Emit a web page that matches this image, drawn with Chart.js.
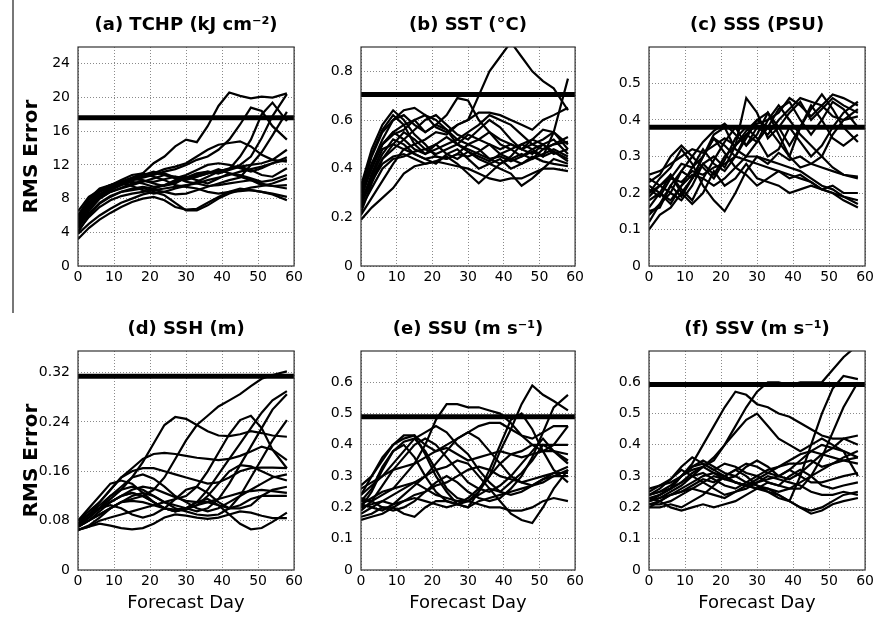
<!DOCTYPE html>
<html>
<head>
<meta charset="utf-8">
<script src="https://cdn.jsdelivr.net/npm/chart.js@4"></script>
<style>
  body { margin: 0; background: #fff; }
  #wrap { position: relative; width: 877px; height: 626px; overflow: hidden; }
  #wrap canvas { position: absolute; }
  #edge { position: absolute; left: 12px; top: 0; width: 1.5px; height: 313px; background: #777; }
</style>
</head>
<body>
<div id="wrap">
  <div id="edge"></div>
  <canvas id="pa" width="306" height="300" style="left:0;top:0"></canvas>
  <canvas id="pb" width="281" height="300" style="left:306px;top:0"></canvas>
  <canvas id="pc" width="287" height="300" style="left:590px;top:0"></canvas>
  <canvas id="pd" width="306" height="326" style="left:0;top:300px"></canvas>
  <canvas id="pe" width="281" height="326" style="left:306px;top:300px"></canvas>
  <canvas id="pf" width="287" height="326" style="left:590px;top:300px"></canvas>
</div>
<script>
// forecast days sampled for every run
const days = [0, 3, 6, 9, 12, 15, 18, 21, 24, 27, 30, 33, 36, 39, 42, 45, 48, 51, 54, 58];
const dayTicks = [0, 10, 20, 30, 40, 50, 60];

// (a) TCHP
const tchpTicks = [0, 4, 8, 12, 16, 20, 24];
const tchpLimit = 17.6;
const tchpRuns = [
  [6.0, 7.5, 8.8, 9.5, 10.0, 10.5, 11.0, 12.2, 13.0, 14.2, 15.0, 14.7, 16.6, 19.0, 20.6, 20.2, 19.9, 20.1, 20.0, 20.5],
  [5.0, 7.0, 8.4, 9.2, 9.8, 10.2, 10.5, 10.8, 11.2, 11.5, 12.0, 12.6, 13.0, 13.8, 15.0, 16.8, 18.8, 18.4, 16.6, 15.0],
  [4.5, 6.5, 8.0, 8.8, 9.3, 9.8, 10.1, 10.0, 10.3, 10.6, 10.4, 10.8, 11.2, 11.0, 11.5, 12.0, 13.0, 15.2, 17.8, 20.4],
  [5.2, 7.0, 8.2, 9.0, 9.6, 10.0, 9.8, 9.4, 9.6, 10.0, 10.4, 10.6, 11.0, 11.3, 11.5, 13.0, 15.0, 18.0, 19.4, 17.2],
  [4.0, 6.0, 7.4, 8.2, 8.8, 9.0, 9.2, 9.0, 8.8, 8.5, 8.6, 9.0, 9.4, 9.8, 10.2, 10.5, 12.0, 13.5, 15.5, 18.3],
  [5.5, 7.2, 8.5, 9.2, 9.8, 10.3, 10.6, 11.0, 11.5, 11.8, 12.2, 13.0, 13.8, 14.4, 14.6, 14.8, 14.2, 13.2, 12.6, 13.8],
  [3.2, 4.5, 5.5, 6.3, 7.0, 7.6, 8.0, 8.2, 7.8, 7.0, 6.7, 6.8, 7.5, 8.2, 8.8, 9.2, 9.0, 8.8, 8.5, 7.8],
  [3.8, 5.0, 6.0, 6.8, 7.5, 8.0, 8.5, 8.8, 8.4, 7.5, 6.6, 6.6, 7.2, 8.0, 8.6, 9.0, 9.3, 9.5, 9.8, 10.4],
  [4.2, 5.8, 7.0, 7.8, 8.3, 8.6, 8.8, 9.0, 9.2, 9.4, 9.6, 9.8, 10.2, 10.5, 10.8, 11.2, 11.5, 11.8, 12.2, 12.9],
  [5.0, 7.2, 8.5, 9.3, 9.8, 10.2, 10.6, 10.9, 11.0, 10.5, 10.0, 9.8, 9.5, 9.6, 9.8, 10.0, 10.2, 9.8, 9.5, 9.2],
  [6.5, 8.2, 9.0, 9.6, 10.0, 10.3, 10.2, 9.8, 9.5, 9.8, 10.5, 11.0, 11.2, 11.0, 11.4, 11.8, 12.0, 12.2, 12.6, 12.4],
  [5.5, 7.5, 8.8, 9.4, 9.8, 9.5, 9.0, 8.6, 8.8, 9.2, 9.5, 10.0, 10.6, 11.2, 11.6, 11.8, 11.4, 10.8, 10.6, 11.6],
  [4.8, 6.8, 8.0, 8.8, 9.2, 9.6, 10.0, 10.4, 10.8, 10.6, 10.2, 10.6, 11.0, 11.5, 11.0, 10.6, 10.2, 9.6, 9.5, 9.6],
  [6.0, 8.0, 9.2, 9.6, 10.2, 10.8, 11.0, 10.6, 10.2, 9.6, 9.4, 9.2, 8.8, 8.6, 8.8, 8.9, 9.0, 8.8, 8.6, 8.2],
  [5.8, 7.8, 9.0, 9.6, 10.0, 10.4, 10.8, 11.2, 10.8, 10.4, 10.8, 11.4, 12.0, 12.2, 12.0, 11.6, 11.2, 11.6, 12.2, 12.6],
  [4.6, 6.2, 7.5, 8.3, 8.8, 9.2, 9.4, 9.2, 9.6, 10.2, 10.6, 10.2, 9.8, 10.4, 11.0, 10.8, 10.4, 10.0, 10.2, 10.8]
];

// (b) SST
const sstTicks = [0, 0.2, 0.4, 0.6, 0.8];
const sstLimit = 0.705;
const sstRuns = [
  [0.25, 0.38, 0.48, 0.50, 0.48, 0.50, 0.52, 0.55, 0.54, 0.58, 0.60, 0.70, 0.80, 0.86, 0.92, 0.86, 0.80, 0.76, 0.73, 0.64],
  [0.22, 0.34, 0.44, 0.50, 0.55, 0.52, 0.48, 0.50, 0.46, 0.44, 0.47, 0.45, 0.43, 0.46, 0.48, 0.45, 0.47, 0.45, 0.55, 0.77],
  [0.30, 0.45, 0.55, 0.60, 0.62, 0.58, 0.55, 0.58, 0.62, 0.69, 0.68, 0.60, 0.55, 0.52, 0.50, 0.48, 0.50, 0.52, 0.55, 0.50],
  [0.28, 0.42, 0.52, 0.60, 0.64, 0.65, 0.62, 0.60, 0.56, 0.52, 0.50, 0.52, 0.55, 0.50, 0.48, 0.50, 0.52, 0.56, 0.55, 0.48],
  [0.25, 0.35, 0.42, 0.45, 0.46, 0.44, 0.42, 0.43, 0.45, 0.42, 0.38, 0.34, 0.38, 0.42, 0.44, 0.46, 0.44, 0.46, 0.48, 0.45],
  [0.30, 0.40, 0.50, 0.55, 0.52, 0.48, 0.46, 0.50, 0.53, 0.50, 0.47, 0.44, 0.42, 0.40, 0.38, 0.33, 0.36, 0.40, 0.44, 0.42],
  [0.19, 0.24, 0.28, 0.32, 0.38, 0.41, 0.42, 0.43, 0.42, 0.41, 0.40, 0.38, 0.36, 0.35, 0.36, 0.36, 0.38, 0.40, 0.40, 0.39],
  [0.32, 0.46, 0.56, 0.62, 0.58, 0.50, 0.46, 0.48, 0.50, 0.52, 0.55, 0.58, 0.62, 0.60, 0.58, 0.54, 0.50, 0.48, 0.50, 0.53],
  [0.28, 0.40, 0.50, 0.55, 0.58, 0.60, 0.62, 0.57, 0.55, 0.58, 0.60, 0.63, 0.63, 0.62, 0.60, 0.58, 0.56, 0.60, 0.62, 0.65],
  [0.26, 0.37, 0.46, 0.52, 0.50, 0.46, 0.44, 0.45, 0.44, 0.46, 0.45, 0.47, 0.50, 0.48, 0.50, 0.48, 0.46, 0.50, 0.52, 0.46],
  [0.33, 0.48, 0.58, 0.64, 0.60, 0.54, 0.50, 0.45, 0.44, 0.46, 0.50, 0.48, 0.44, 0.42, 0.45, 0.50, 0.48, 0.45, 0.47, 0.44],
  [0.24, 0.32, 0.40, 0.44, 0.45, 0.47, 0.48, 0.46, 0.48, 0.50, 0.54, 0.52, 0.50, 0.46, 0.44, 0.42, 0.44, 0.48, 0.50, 0.51],
  [0.30, 0.42, 0.50, 0.54, 0.56, 0.60, 0.55, 0.58, 0.56, 0.50, 0.48, 0.46, 0.44, 0.45, 0.43, 0.45, 0.48, 0.50, 0.47, 0.43],
  [0.27, 0.36, 0.44, 0.48, 0.52, 0.56, 0.60, 0.62, 0.58, 0.54, 0.52, 0.56, 0.60, 0.57, 0.52, 0.48, 0.52, 0.50, 0.46, 0.48],
  [0.21, 0.28, 0.35, 0.42, 0.48, 0.46, 0.44, 0.42, 0.46, 0.48, 0.44, 0.40, 0.42, 0.44, 0.40, 0.42, 0.45, 0.43, 0.42, 0.41]
];

// (c) SSS
const sssTicks = [0, 0.1, 0.2, 0.3, 0.4, 0.5];
const sssLimit = 0.38;
const sssRuns = [
  [0.14, 0.17, 0.20, 0.18, 0.22, 0.28, 0.30, 0.27, 0.33, 0.46, 0.42, 0.35, 0.38, 0.42, 0.45, 0.40, 0.43, 0.46, 0.44, 0.42],
  [0.25, 0.26, 0.28, 0.30, 0.32, 0.31, 0.33, 0.35, 0.33, 0.36, 0.39, 0.40, 0.42, 0.46, 0.44, 0.41, 0.44, 0.47, 0.46, 0.44],
  [0.20, 0.22, 0.24, 0.23, 0.26, 0.25, 0.27, 0.28, 0.30, 0.29, 0.28, 0.27, 0.26, 0.25, 0.24, 0.23, 0.21, 0.20, 0.18, 0.16],
  [0.22, 0.20, 0.18, 0.22, 0.25, 0.24, 0.22, 0.24, 0.27, 0.30, 0.30, 0.29, 0.28, 0.27, 0.26, 0.24, 0.22, 0.21, 0.19, 0.17],
  [0.10, 0.14, 0.16, 0.20, 0.17, 0.20, 0.26, 0.22, 0.24, 0.28, 0.24, 0.23, 0.22, 0.20, 0.21, 0.22, 0.21, 0.20, 0.19, 0.18],
  [0.20, 0.24, 0.27, 0.32, 0.28, 0.22, 0.18, 0.15, 0.20, 0.26, 0.30, 0.28, 0.31, 0.29, 0.30, 0.28, 0.27, 0.26, 0.25, 0.245],
  [0.23, 0.25, 0.30, 0.33, 0.30, 0.34, 0.37, 0.39, 0.36, 0.33, 0.38, 0.36, 0.40, 0.43, 0.46, 0.45, 0.44, 0.41, 0.40, 0.41],
  [0.15, 0.16, 0.22, 0.19, 0.24, 0.30, 0.35, 0.33, 0.30, 0.35, 0.40, 0.42, 0.36, 0.30, 0.38, 0.43, 0.47, 0.43, 0.38, 0.34],
  [0.19, 0.22, 0.20, 0.26, 0.30, 0.27, 0.24, 0.29, 0.35, 0.38, 0.35, 0.30, 0.32, 0.38, 0.34, 0.30, 0.33, 0.38, 0.42, 0.45],
  [0.24, 0.22, 0.25, 0.20, 0.24, 0.30, 0.36, 0.38, 0.32, 0.30, 0.34, 0.40, 0.44, 0.40, 0.36, 0.33, 0.30, 0.27, 0.25, 0.24],
  [0.12, 0.17, 0.22, 0.26, 0.24, 0.28, 0.25, 0.30, 0.33, 0.37, 0.40, 0.38, 0.34, 0.30, 0.27, 0.28, 0.30, 0.36, 0.40, 0.43],
  [0.21, 0.19, 0.24, 0.28, 0.27, 0.30, 0.35, 0.31, 0.27, 0.25, 0.22, 0.24, 0.26, 0.24, 0.25, 0.23, 0.21, 0.22, 0.20, 0.20],
  [0.16, 0.20, 0.25, 0.21, 0.18, 0.24, 0.29, 0.34, 0.38, 0.33, 0.36, 0.42, 0.38, 0.33, 0.38, 0.44, 0.40, 0.35, 0.33, 0.36],
  [0.18, 0.20, 0.17, 0.22, 0.27, 0.32, 0.28, 0.26, 0.30, 0.36, 0.34, 0.38, 0.43, 0.45, 0.40, 0.36, 0.40, 0.45, 0.43, 0.38]
];

// (d) SSH
const sshTicks = [0, 0.08, 0.16, 0.24, 0.32];
const sshLimit = 0.314;
const sshRuns = [
  [0.070, 0.080, 0.090, 0.100, 0.110, 0.115, 0.120, 0.130, 0.150, 0.180, 0.210, 0.235, 0.250, 0.265, 0.275, 0.285, 0.298, 0.310, 0.316, 0.322],
  [0.070, 0.085, 0.100, 0.115, 0.130, 0.150, 0.175, 0.205, 0.235, 0.248, 0.245, 0.235, 0.225, 0.218, 0.217, 0.220, 0.225, 0.222, 0.218, 0.216],
  [0.075, 0.090, 0.100, 0.110, 0.120, 0.125, 0.120, 0.110, 0.100, 0.095, 0.100, 0.110, 0.130, 0.155, 0.180, 0.205, 0.230, 0.255, 0.275, 0.290],
  [0.080, 0.090, 0.105, 0.120, 0.130, 0.135, 0.130, 0.120, 0.110, 0.105, 0.100, 0.095, 0.100, 0.115, 0.140, 0.170, 0.200, 0.230, 0.260, 0.285],
  [0.065, 0.070, 0.080, 0.085, 0.090, 0.095, 0.100, 0.105, 0.110, 0.115, 0.120, 0.135, 0.160, 0.190, 0.220, 0.243, 0.250, 0.230, 0.195, 0.165],
  [0.070, 0.080, 0.090, 0.100, 0.110, 0.120, 0.125, 0.120, 0.110, 0.100, 0.095, 0.090, 0.088, 0.090, 0.100, 0.120, 0.150, 0.180, 0.210, 0.243],
  [0.080, 0.095, 0.110, 0.130, 0.150, 0.165, 0.180, 0.188, 0.190, 0.188, 0.185, 0.182, 0.180, 0.178, 0.180, 0.185, 0.192, 0.200, 0.195, 0.178],
  [0.075, 0.090, 0.110, 0.130, 0.150, 0.160, 0.165, 0.165, 0.160, 0.155, 0.150, 0.145, 0.140, 0.142, 0.150, 0.160, 0.165, 0.166, 0.166, 0.165],
  [0.080, 0.100, 0.120, 0.140, 0.145, 0.140, 0.125, 0.110, 0.100, 0.095, 0.098, 0.105, 0.110, 0.115, 0.120, 0.125, 0.128, 0.130, 0.128, 0.125],
  [0.075, 0.085, 0.100, 0.110, 0.120, 0.125, 0.120, 0.110, 0.100, 0.095, 0.100, 0.110, 0.115, 0.105, 0.090, 0.075, 0.066, 0.068, 0.078, 0.093],
  [0.065, 0.070, 0.075, 0.072, 0.068, 0.066, 0.068, 0.075, 0.085, 0.090, 0.088, 0.085, 0.083, 0.085, 0.090, 0.095, 0.093, 0.088, 0.084, 0.084],
  [0.070, 0.080, 0.095, 0.110, 0.120, 0.130, 0.135, 0.132, 0.125, 0.118, 0.112, 0.110, 0.110, 0.105, 0.100, 0.105, 0.115, 0.120, 0.120, 0.120],
  [0.080, 0.090, 0.100, 0.105, 0.100, 0.090, 0.085, 0.090, 0.100, 0.115, 0.130, 0.135, 0.125, 0.110, 0.100, 0.100, 0.105, 0.120, 0.130, 0.135],
  [0.072, 0.085, 0.100, 0.120, 0.135, 0.150, 0.155, 0.148, 0.135, 0.120, 0.110, 0.100, 0.095, 0.100, 0.110, 0.120, 0.130, 0.140, 0.150, 0.155],
  [0.065, 0.072, 0.085, 0.100, 0.110, 0.112, 0.110, 0.105, 0.100, 0.098, 0.100, 0.105, 0.120, 0.140, 0.160, 0.170, 0.168, 0.160, 0.152, 0.145]
];

// (e) SSU
const ssuTicks = [0, 0.1, 0.2, 0.3, 0.4, 0.5, 0.6];
const ssuLimit = 0.49;
const ssuRuns = [
  [0.22, 0.22, 0.24, 0.26, 0.30, 0.34, 0.40, 0.48, 0.53, 0.53, 0.52, 0.52, 0.51, 0.50, 0.47, 0.43, 0.40, 0.38, 0.40, 0.46],
  [0.20, 0.21, 0.22, 0.21, 0.22, 0.23, 0.22, 0.21, 0.20, 0.21, 0.23, 0.26, 0.30, 0.38, 0.45, 0.53, 0.59, 0.56, 0.54, 0.51],
  [0.23, 0.22, 0.20, 0.19, 0.20, 0.22, 0.25, 0.28, 0.30, 0.28, 0.25, 0.23, 0.22, 0.23, 0.26, 0.30, 0.36, 0.44, 0.52, 0.56],
  [0.27, 0.30, 0.35, 0.40, 0.42, 0.43, 0.40, 0.38, 0.40, 0.42, 0.44, 0.46, 0.47, 0.47, 0.45, 0.43, 0.42, 0.44, 0.46, 0.46],
  [0.20, 0.25, 0.32, 0.38, 0.41, 0.42, 0.38, 0.32, 0.26, 0.23, 0.22, 0.24, 0.26, 0.25, 0.28, 0.31, 0.35, 0.40, 0.38, 0.35],
  [0.22, 0.26, 0.33, 0.38, 0.40, 0.36, 0.30, 0.25, 0.22, 0.21, 0.22, 0.25, 0.30, 0.34, 0.37, 0.38, 0.40, 0.40, 0.40, 0.40],
  [0.18, 0.20, 0.22, 0.24, 0.26, 0.28, 0.30, 0.32, 0.33, 0.35, 0.34, 0.30, 0.26, 0.22, 0.18, 0.16, 0.15, 0.20, 0.26, 0.32],
  [0.17, 0.18, 0.20, 0.20, 0.18, 0.17, 0.20, 0.22, 0.22, 0.21, 0.20, 0.22, 0.23, 0.24, 0.25, 0.26, 0.27, 0.29, 0.30, 0.30],
  [0.21, 0.23, 0.25, 0.26, 0.27, 0.28, 0.26, 0.24, 0.23, 0.22, 0.22, 0.21, 0.20, 0.20, 0.19, 0.19, 0.20, 0.22, 0.23, 0.22],
  [0.24, 0.27, 0.30, 0.32, 0.33, 0.34, 0.36, 0.38, 0.39, 0.37, 0.35, 0.36, 0.37, 0.38, 0.37, 0.36, 0.37, 0.38, 0.38, 0.37],
  [0.16, 0.17, 0.18, 0.20, 0.22, 0.24, 0.25, 0.27, 0.28, 0.30, 0.32, 0.33, 0.32, 0.30, 0.29, 0.28, 0.29, 0.30, 0.31, 0.31],
  [0.24, 0.30, 0.36, 0.40, 0.43, 0.43, 0.37, 0.30, 0.25, 0.21, 0.20, 0.25, 0.32, 0.40, 0.48, 0.50, 0.45, 0.38, 0.32, 0.28],
  [0.26, 0.28, 0.30, 0.34, 0.38, 0.42, 0.44, 0.46, 0.44, 0.40, 0.37, 0.32, 0.28, 0.25, 0.24, 0.25, 0.27, 0.29, 0.31, 0.33],
  [0.21, 0.20, 0.19, 0.21, 0.24, 0.27, 0.30, 0.34, 0.38, 0.42, 0.44, 0.42, 0.38, 0.34, 0.30, 0.28, 0.27, 0.28, 0.30, 0.32],
  [0.19, 0.22, 0.27, 0.32, 0.36, 0.40, 0.42, 0.40, 0.36, 0.32, 0.28, 0.26, 0.25, 0.27, 0.30, 0.34, 0.38, 0.42, 0.38, 0.34]
];

// (f) SSV
const ssvTicks = [0, 0.1, 0.2, 0.3, 0.4, 0.5, 0.6];
const ssvLimit = 0.593;
const ssvRuns = [
  [0.23, 0.24, 0.26, 0.30, 0.34, 0.40, 0.46, 0.52, 0.57, 0.56, 0.53, 0.52, 0.50, 0.49, 0.47, 0.45, 0.43, 0.42, 0.42, 0.43],
  [0.22, 0.24, 0.26, 0.28, 0.30, 0.33, 0.36, 0.40, 0.46, 0.52, 0.57, 0.60, 0.60, 0.59, 0.60, 0.60, 0.60, 0.64, 0.68, 0.72],
  [0.21, 0.22, 0.24, 0.25, 0.27, 0.29, 0.28, 0.30, 0.32, 0.30, 0.27, 0.25, 0.23, 0.22, 0.30, 0.40, 0.50, 0.58, 0.62, 0.61],
  [0.24, 0.25, 0.27, 0.30, 0.33, 0.35, 0.33, 0.31, 0.30, 0.28, 0.27, 0.26, 0.25, 0.26, 0.26, 0.30, 0.36, 0.44, 0.52, 0.60],
  [0.20, 0.20, 0.21, 0.20, 0.22, 0.24, 0.27, 0.30, 0.32, 0.34, 0.33, 0.31, 0.30, 0.32, 0.35, 0.38, 0.40, 0.39, 0.42, 0.40],
  [0.22, 0.23, 0.24, 0.25, 0.26, 0.28, 0.30, 0.29, 0.28, 0.27, 0.26, 0.26, 0.24, 0.22, 0.20, 0.18, 0.19, 0.21, 0.22, 0.23],
  [0.25, 0.27, 0.29, 0.33, 0.36, 0.34, 0.32, 0.30, 0.28, 0.27, 0.28, 0.30, 0.29, 0.28, 0.27, 0.25, 0.24, 0.24, 0.25, 0.24],
  [0.22, 0.24, 0.26, 0.30, 0.33, 0.34, 0.32, 0.34, 0.33, 0.31, 0.30, 0.32, 0.33, 0.34, 0.34, 0.35, 0.33, 0.34, 0.35, 0.36],
  [0.21, 0.21, 0.22, 0.24, 0.26, 0.25, 0.24, 0.23, 0.25, 0.26, 0.28, 0.29, 0.30, 0.32, 0.30, 0.28, 0.28, 0.29, 0.30, 0.31],
  [0.23, 0.22, 0.20, 0.19, 0.20, 0.21, 0.20, 0.21, 0.22, 0.24, 0.26, 0.28, 0.27, 0.26, 0.28, 0.30, 0.32, 0.34, 0.36, 0.38],
  [0.24, 0.26, 0.29, 0.32, 0.30, 0.28, 0.26, 0.24, 0.25, 0.27, 0.29, 0.31, 0.33, 0.35, 0.37, 0.38, 0.37, 0.36, 0.35, 0.34],
  [0.20, 0.22, 0.24, 0.26, 0.28, 0.30, 0.31, 0.30, 0.28, 0.27, 0.26, 0.25, 0.24, 0.22, 0.20, 0.19, 0.20, 0.22, 0.24, 0.25],
  [0.26, 0.27, 0.28, 0.30, 0.32, 0.33, 0.35, 0.40, 0.44, 0.48, 0.50, 0.46, 0.42, 0.40, 0.38, 0.40, 0.42, 0.40, 0.38, 0.36],
  [0.22, 0.23, 0.25, 0.27, 0.30, 0.31, 0.29, 0.27, 0.26, 0.28, 0.30, 0.28, 0.27, 0.30, 0.32, 0.30, 0.27, 0.26, 0.27, 0.28],
  [0.24, 0.25, 0.26, 0.28, 0.31, 0.33, 0.31, 0.29, 0.30, 0.33, 0.35, 0.33, 0.30, 0.29, 0.31, 0.34, 0.37, 0.39, 0.38, 0.30]
];

Chart.defaults.font.family = "'DejaVu Sans', sans-serif";
Chart.defaults.color = '#000';

// box around the plotting area, like a closed axes frame
const frame = {
  id: 'frame',
  afterDraw(chart) {
    const a = chart.chartArea, ctx = chart.ctx;
    ctx.save();
    ctx.strokeStyle = '#333';
    ctx.lineWidth = 1.2;
    ctx.strokeRect(a.left, a.top, a.right - a.left, a.bottom - a.top);
    ctx.restore();
  }
};

function fmt(v) {
  return v === 0 ? '0' : String(Number(v.toFixed(2)));
}

function panel(id, opt) {
  const datasets = opt.runs.map(run => ({
    data: run.map((v, i) => ({ x: days[i], y: v })),
    borderColor: '#000',
    borderWidth: 2.2,
    pointRadius: 0,
    tension: 0,
    clip: 0
  }));
  // reference level drawn as a heavy horizontal line
  datasets.push({
    data: [{ x: 0, y: opt.limit }, { x: 60, y: opt.limit }],
    borderColor: '#000',
    borderWidth: 5,
    pointRadius: 0,
    clip: 0
  });

  new Chart(document.getElementById(id), {
    type: 'line',
    data: { datasets },
    plugins: [frame],
    options: {
      responsive: false,
      animation: false,
      devicePixelRatio: 1,
      layout: { padding: { left: 0, right: opt.padRight, top: 0, bottom: 0 } },
      plugins: {
        legend: { display: false },
        tooltip: { enabled: false },
        title: {
          display: true,
          text: opt.title,
          fullSize: false,
          font: { size: 18, weight: 'bold', lineHeight: 1.2 },
          color: '#000',
          padding: { top: opt.titleTop, bottom: 11 }
        }
      },
      scales: {
        x: {
          type: 'linear',
          min: 0,
          max: 60,
          afterBuildTicks: s => { s.ticks = dayTicks.map(v => ({ value: v })); },
          afterFit: s => { s.height = opt.xHeight; },
          ticks: { font: { size: 14 }, color: '#000', padding: 3, autoSkip: false, maxRotation: 0 },
          grid: { color: '#8a8a8a', lineWidth: 1, drawTicks: false },
          border: { display: false, dash: [1, 2] },
          title: {
            display: opt.showX,
            text: 'Forecast Day',
            font: { size: 18 },
            color: '#000',
            padding: { top: 0, bottom: 12 }
          }
        },
        y: {
          min: 0,
          max: opt.yMax,
          afterBuildTicks: s => { s.ticks = opt.yTicks.map(v => ({ value: v })); },
          afterFit: s => { s.width = opt.yWidth; },
          ticks: { font: { size: 14 }, color: '#000', padding: 8, callback: v => fmt(v) },
          grid: { color: '#8a8a8a', lineWidth: 1, drawTicks: false },
          border: { display: false, dash: [1, 2] },
          title: {
            display: opt.showY,
            text: 'RMS Error',
            font: { size: 20, weight: 'bold' },
            color: '#000',
            padding: { top: 20, bottom: 0 }
          }
        }
      }
    }
  });
}

const top1 = { titleTop: 14.4, xHeight: 34 };
const top2 = { titleTop: 18.4, xHeight: 56 };

panel('pa', Object.assign({ title: '(a) TCHP (kJ cm⁻²)', runs: tchpRuns, limit: tchpLimit, yMax: 26, yTicks: tchpTicks,
  yWidth: 78, padRight: 10, showY: true, showX: false }, top1));
panel('pb', Object.assign({ title: '(b) SST (°C)', runs: sstRuns, limit: sstLimit, yMax: 0.9, yTicks: sstTicks,
  yWidth: 55, padRight: 9, showY: false, showX: false }, top1));
panel('pc', Object.assign({ title: '(c) SSS (PSU)', runs: sssRuns, limit: sssLimit, yMax: 0.6, yTicks: sssTicks,
  yWidth: 59, padRight: 10, showY: false, showX: false }, top1));
panel('pd', Object.assign({ title: '(d) SSH (m)', runs: sshRuns, limit: sshLimit, yMax: 0.355, yTicks: sshTicks,
  yWidth: 78, padRight: 10, showY: true, showX: true }, top2));
panel('pe', Object.assign({ title: '(e) SSU (m s⁻¹)', runs: ssuRuns, limit: ssuLimit, yMax: 0.7, yTicks: ssuTicks,
  yWidth: 55, padRight: 9, showY: false, showX: true }, top2));
panel('pf', Object.assign({ title: '(f) SSV (m s⁻¹)', runs: ssvRuns, limit: ssvLimit, yMax: 0.7, yTicks: ssvTicks,
  yWidth: 59, padRight: 10, showY: false, showX: true }, top2));
</script>
</body>
</html>
